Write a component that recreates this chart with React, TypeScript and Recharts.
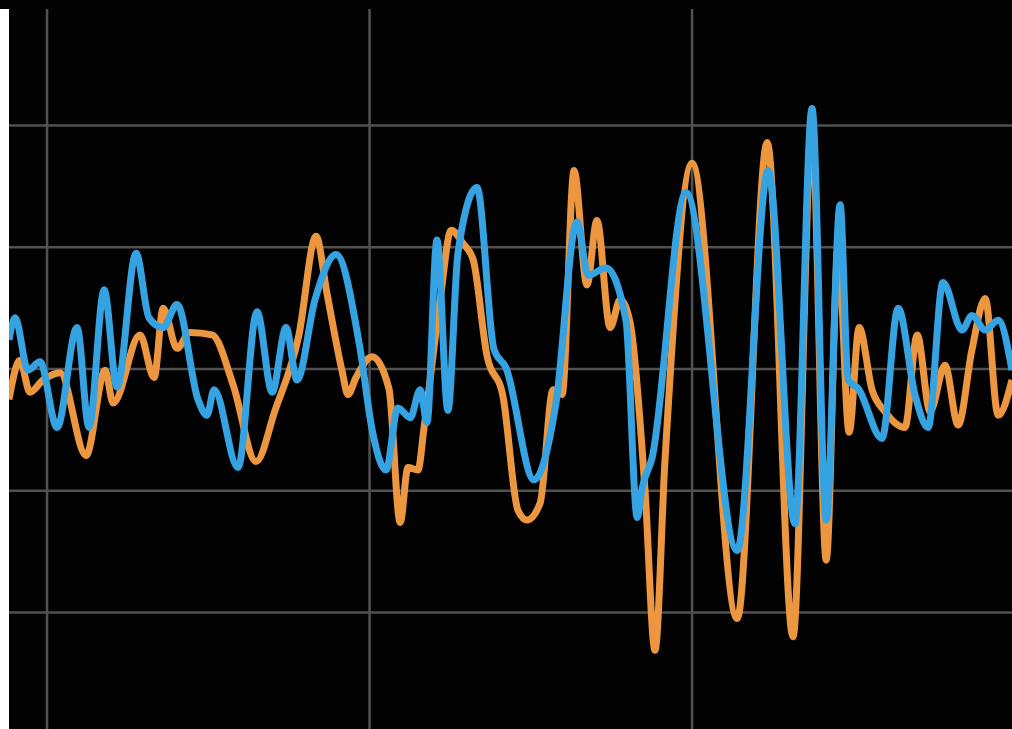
import { LineChart, Line, XAxis, YAxis, CartesianGrid } from 'recharts';

// time (ms) and amplitude
const blueTime = [
  -11.8, -9.9, -5.9, -2.2, 3.1, 9.3, 13.0, 17.7, 21.7, 27.6, 31.6, 36.0, 40.3, 46.8, 49.6, 51.8,
  59.2, 65.1, 69.8, 74.1, 77.5, 83.1, 89.6, 97.1, 100.8, 105.1, 108.8, 112.6, 115.7, 117.8, 120.9,
  124.3, 127.4, 133.3, 138.6, 142.3, 151.0, 157.8, 164.3, 167.8, 173.3, 179.5, 183.0, 184.5, 187.6,
  198.1, 214.0, 223.6, 231.9, 237.2, 241.6, 245.9, 248.4, 251.5, 258.9, 263.9, 269.1, 273.2, 277.8,
  283.7, 286.8, 290.9, 294.9, 299.2,
];
const blueValues = [
  0.24, 0.42, -0.01, 0.06, -0.48, 0.34, -0.48, 0.65, -0.15, 0.95, 0.42, 0.34, 0.53, -0.25, -0.38, -0.17,
  -0.81, 0.47, -0.19, 0.34, -0.09, 0.57, 0.94, 0.16, -0.5, -0.83, -0.32, -0.4, -0.17, -0.44, 1.06,
  -0.34, 0.95, 1.49, 0.16, 0.01, -0.91, -0.28, 1.21, 0.77, 0.83, 0.4, -1.22, -0.98, -0.73,
  1.45, -1.49, 1.63, -1.27, 2.14, -1.24, 1.35, -0.09, -0.16, -0.57, 0.5, -0.21, -0.48, 0.71,
  0.32, 0.44, 0.32, 0.4, -0.01,
];

const orangeTime = [
  -11.8, -8.4, -5.3, -1.2, 4.0, 12.1, 18.0, 20.5, 28.8, 33.2, 36.0, 40.3, 44.3, 51.2, 57.7, 64.8,
  70.7, 78.1, 83.4, 86.8, 91.5, 93.3, 95.8, 100.8, 106.0, 109.5, 111.9, 115.0, 116.9, 121.9, 125.3,
  129.0, 132.1, 136.4, 141.4, 146.0, 148.8, 152.9, 156.9, 159.7, 163.4, 167.4, 170.5, 174.6, 177.7,
  180.8, 185.4, 188.5, 191.6, 200.0, 214.0, 223.3, 231.3, 237.2, 241.6, 245.3, 248.7, 251.8, 255.8,
  259.8, 266.0, 269.8, 273.8, 278.4, 282.5, 286.8, 290.9, 294.9, 299.2,
];
const orangeValues = [
  -0.25, 0.07, -0.19, -0.09, -0.03, -0.71, -0.01, -0.28, 0.28, -0.07, 0.5, 0.17, 0.3, 0.28, -0.13, -0.76,
  -0.34, 0.28, 1.09, 0.62, -0.02, -0.21, -0.07, 0.1, -0.16, -1.26, -0.81, -0.83, -0.48, 0.57, 1.14,
  1.03, 0.9, 0.11, -0.23, -1.16, -1.24, -1.1, -0.17, -0.21, 1.63, 0.69, 1.22, 0.34, 0.57,
  0.38, -0.99, -2.31, -0.75, 1.69, -2.05, 1.86, -2.2, 1.96, -1.57, 0.98, -0.52, 0.34, -0.17,
  -0.35, -0.48, 0.28, -0.35, 0.03, -0.46, 0.16, 0.58, -0.38, -0.09,
];

const timeTicks = [0, 100, 200];
const ampTicks = [-2, -1, 0, 1, 2];

const blueData = blueTime.map((t, i) => ({ t, v: blueValues[i] }));
const orangeData = orangeTime.map((t, i) => ({ t, v: orangeValues[i] }));

export default function App() {
  return (
    <div
      style={{
        position: 'absolute',
        left: 0,
        top: 0,
        width: 1012,
        height: 729,
        background: '#020202',
        overflow: 'hidden',
      }}
    >
      <div
        style={{
          position: 'absolute',
          left: 0,
          top: 9,
          width: 9,
          height: 720,
          background: '#ffffff',
        }}
      />
      <div style={{ position: 'absolute', left: 9, top: 9 }}>
        <LineChart width={1003} height={720} margin={{ top: 0, right: 0, bottom: 0, left: 0 }}>
          <CartesianGrid stroke="#515151" strokeWidth={2.5} syncWithTicks />
          <XAxis
            dataKey="t"
            type="number"
            domain={[-11.8, 299.2]}
            ticks={timeTicks}
            allowDataOverflow
            hide
          />
          <YAxis
            type="number"
            domain={[-2.957, 2.957]}
            ticks={ampTicks}
            allowDataOverflow
            hide
          />
          <Line
            data={orangeData}
            dataKey="v"
            type="monotone"
            stroke="#ec9640"
            strokeWidth={7}
            strokeLinejoin="round"
            dot={false}
            isAnimationActive={false}
          />
          <Line
            data={blueData}
            dataKey="v"
            type="monotone"
            stroke="#35a2e2"
            strokeWidth={7}
            strokeLinejoin="round"
            dot={false}
            isAnimationActive={false}
          />
        </LineChart>
      </div>
    </div>
  );
}
